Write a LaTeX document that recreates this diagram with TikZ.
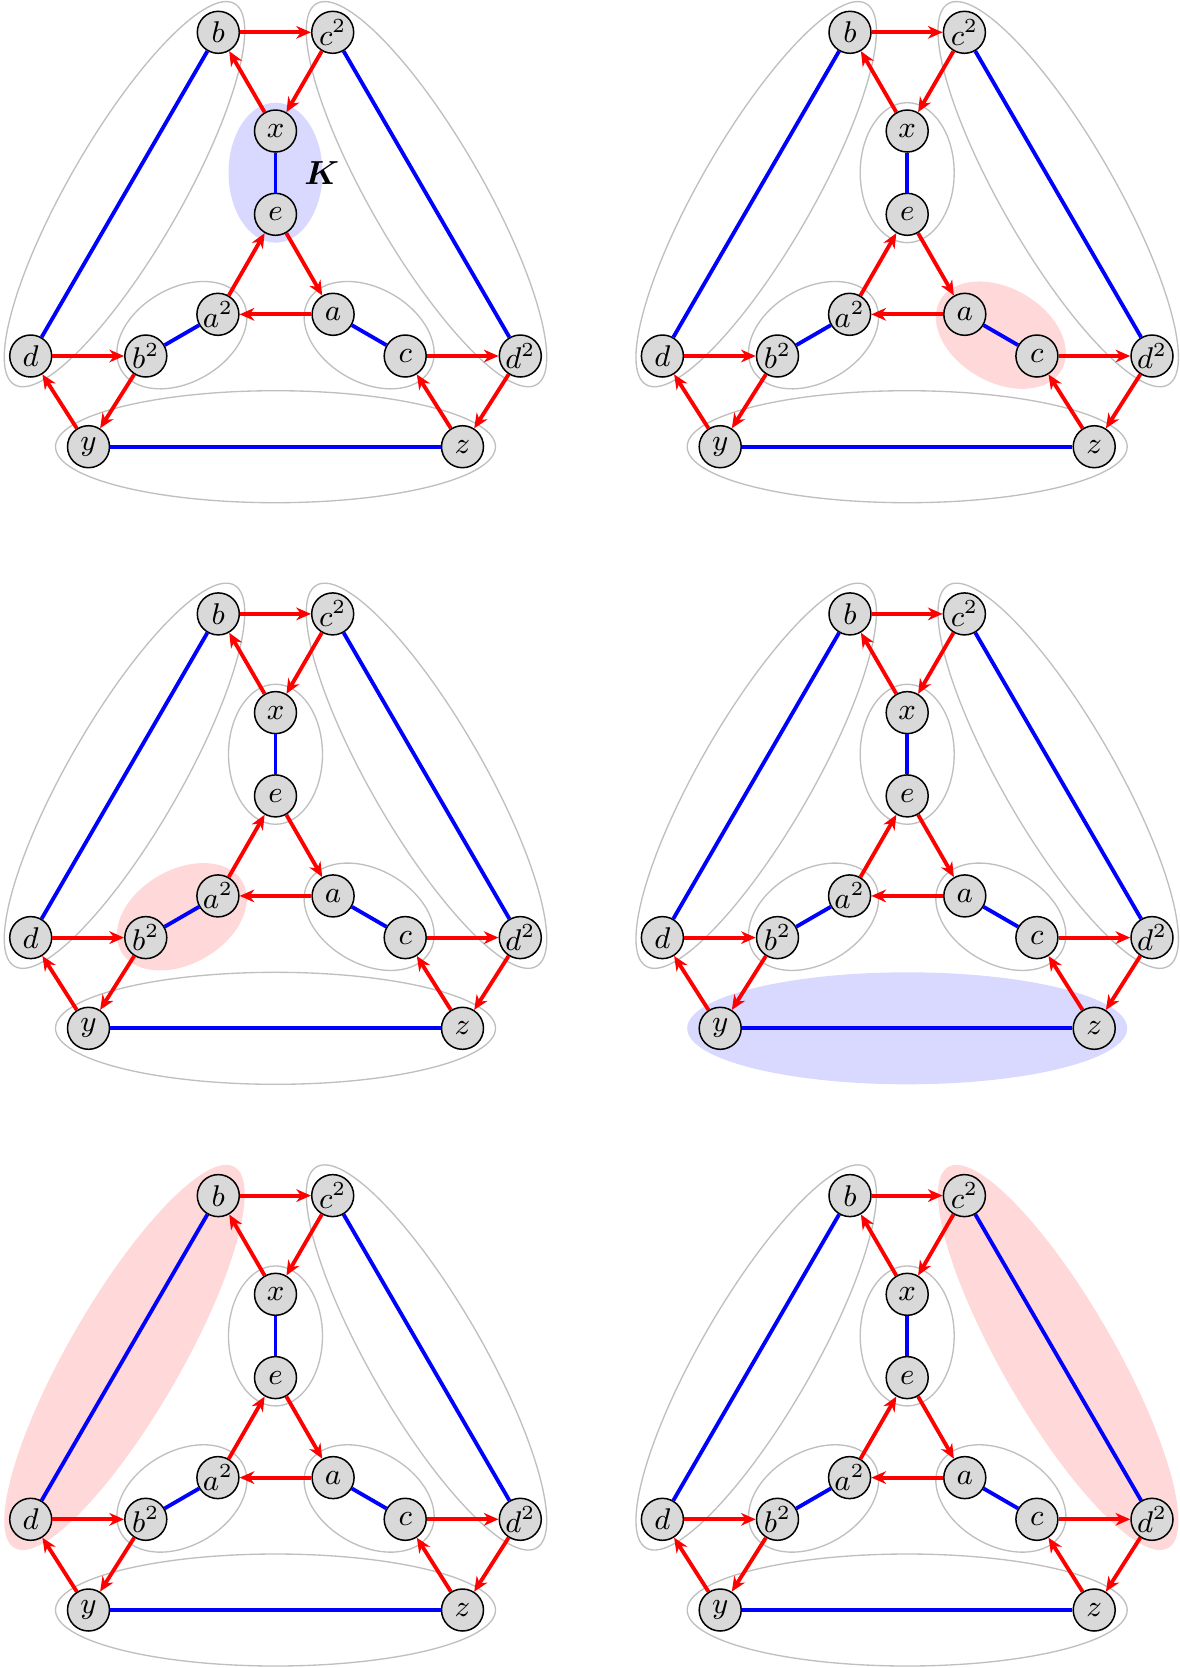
\documentclass[tikz,border=0pt]{standalone}
\usepackage{amsmath}
\usetikzlibrary{arrows.meta,shapes.geometric,calc}
\pgfdeclarelayer{bg}
\pgfsetlayers{bg,main}
\tikzset{
  vx/.style={circle, draw=black, line width=0.45pt, fill=black!15, minimum size=12.6pt, inner sep=0pt, font=\small},
  ring/.style={ellipse, draw=black!25, line width=0.4pt, inner sep=0pt},
  hlb/.style={ellipse, fill=blue!15, inner sep=0pt},
  hlr/.style={ellipse, fill=red!15, inner sep=0pt},
  bigell/.style={minimum width=132pt, minimum height=33.6pt},
  smallell/.style={minimum width=42pt, minimum height=28.2pt},
  redarr/.style={red, line width=1.15pt, -{Stealth[length=4.4pt,width=3.8pt,inset=1.4pt]}},
  bl/.style={blue, line width=1.15pt},
}
\newcommand\drawpanel[9]{%
\begin{scope}[shift={(#2,#3)}]
  \node[vx] (#1b)  at (218.3,32.3) {$b$};
  \node[vx] (#1c2) at (332.7,32.3) {$c^2$};
  \node[vx] (#1x)  at (275.5,131) {$x$};
  \node[vx] (#1e)  at (275.5,214.3) {$e$};
  \node[vx] (#1a2) at (217.9,314.3) {$a^2$};
  \node[vx] (#1a)  at (333.1,314.3) {$a$};
  \node[vx] (#1d)  at (30.7,356) {$d$};
  \node[vx] (#1b2) at (145.8,356) {$b^2$};
  \node[vx] (#1c)  at (405.2,356) {$c$};
  \node[vx] (#1d2) at (520.3,356) {$d^2$};
  \node[vx] (#1y)  at (88.5,446.7) {$y$};
  \node[vx] (#1z)  at (462.5,446.7) {$z$};
  \begin{pgfonlayer}{bg}
    \node[#4, smallell, rotate=90] (#1Exe) at ($(#1x)!.5!(#1e)$) {};
    \node[#5, smallell, rotate=-30] (#1Eac) at ($(#1a)!.5!(#1c)$) {};
    \node[#6, smallell, rotate=30] (#1Eab) at ($(#1a2)!.5!(#1b2)$) {};
    \node[#7, bigell] (#1Eyz) at ($(#1y)!.5!(#1z)$) {};
    \node[#8, bigell, rotate=60] (#1Ebd) at ($(#1b)!.5!(#1d)$) {};
    \node[#9, bigell, rotate=-60] (#1Ecd) at ($(#1c2)!.5!(#1d2)$) {};
  \end{pgfonlayer}
  \draw[bl] (#1b) -- (#1d);
  \draw[bl] (#1c2) -- (#1d2);
  \draw[bl] (#1x) -- (#1e);
  \draw[bl] (#1a) -- (#1c);
  \draw[bl] (#1a2) -- (#1b2);
  \draw[bl] (#1y) -- (#1z);
  \draw[redarr] (#1b) -- (#1c2);
  \draw[redarr] (#1c2) -- (#1x);
  \draw[redarr] (#1x) -- (#1b);
  \draw[redarr] (#1e) -- (#1a);
  \draw[redarr] (#1a) -- (#1a2);
  \draw[redarr] (#1a2) -- (#1e);
  \draw[redarr] (#1d) -- (#1b2);
  \draw[redarr] (#1b2) -- (#1y);
  \draw[redarr] (#1y) -- (#1d);
  \draw[redarr] (#1c) -- (#1d2);
  \draw[redarr] (#1d2) -- (#1z);
  \draw[redarr] (#1z) -- (#1c);
\end{scope}}
\begin{document}
\begin{tikzpicture}[x=0.3pt, y=-0.3pt]
  \useasboundingbox (0,0) rectangle (1180,1668);
  \drawpanel{p1}{0}{0}{hlb}{ring}{ring}{ring}{ring}{ring}
  \drawpanel{p2}{631.7}{0}{ring}{hlr}{ring}{ring}{ring}{ring}
  \drawpanel{p3}{0}{581.6}{ring}{ring}{hlr}{ring}{ring}{ring}
  \drawpanel{p4}{631.7}{581.6}{ring}{ring}{ring}{hlb}{ring}{ring}
  \drawpanel{p5}{0}{1163.3}{ring}{ring}{ring}{ring}{hlr}{ring}
  \drawpanel{p6}{631.7}{1163.3}{ring}{ring}{ring}{ring}{ring}{hlr}
  \node[font=\normalsize] (K) at (321.7,173.3) {$\boldsymbol{K}$};
\end{tikzpicture}
\end{document}
